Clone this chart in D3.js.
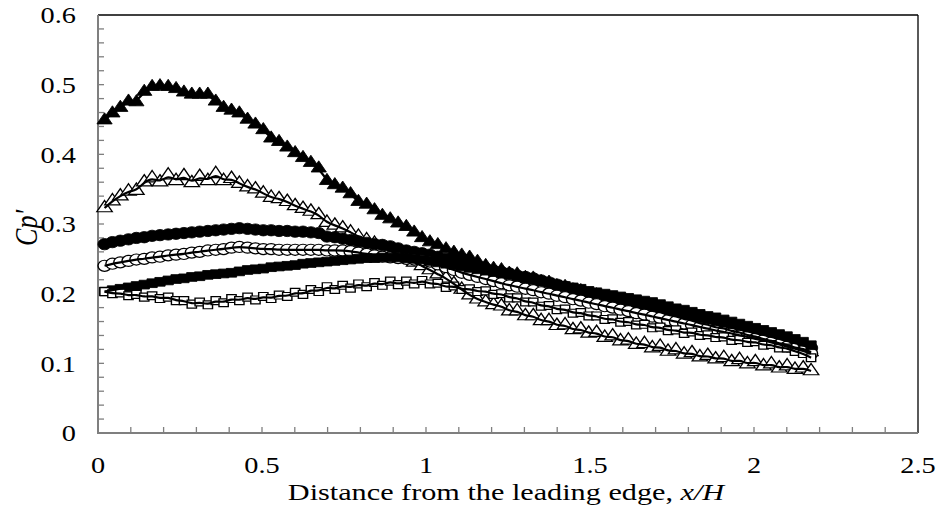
<!DOCTYPE html>
<html lang="en">
<head>
  <meta charset="UTF-8">
  <title>Cp' vs x/H</title>
  <script src="https://d3js.org/d3.v7.min.js"></script>
  <style>
    body { margin: 0; background: #fff; }
    svg text { font-family: "Liberation Serif", "Times New Roman", serif; fill: #000; }
    .axis-domain { stroke: #7f7f7f; stroke-width: 2; fill: none; }
    .tick-mark { stroke: #7f7f7f; stroke-width: 1.3; }
    .frame { stroke: #000; stroke-width: 1.3; }
    .fit { fill: none; stroke: #000; stroke-width: 2.2; }
  </style>
</head>
<body>
  <svg id="chart" width="942" height="517"></svg>
  <script>
    // ---- data ----
    const xOverH = [0.020,0.044,0.068,0.093,0.117,0.141,0.165,0.189,0.214,0.238,
      0.262,0.286,0.310,0.335,0.359,0.383,0.407,0.431,0.456,0.480,
      0.504,0.528,0.552,0.577,0.601,0.625,0.649,0.673,0.698,0.722,
      0.746,0.770,0.794,0.819,0.843,0.867,0.891,0.915,0.940,0.964,
      0.988,1.012,1.036,1.061,1.085,1.109,1.133,1.157,1.182,1.206,
      1.230,1.254,1.278,1.303,1.327,1.351,1.375,1.399,1.424,1.448,
      1.472,1.496,1.520,1.545,1.569,1.593,1.617,1.641,1.666,1.690,
      1.714,1.738,1.762,1.787,1.811,1.835,1.859,1.883,1.908,1.932,
      1.956,1.980,2.004,2.029,2.053,2.077,2.101,2.125,2.150,2.174];

    const cpFilledTriangle = [0.449,0.459,0.467,0.476,0.475,0.490,0.497,0.498,0.497,0.494,
      0.489,0.486,0.486,0.486,0.476,0.467,0.463,0.459,0.450,0.443,
      0.435,0.423,0.418,0.410,0.402,0.395,0.388,0.380,0.362,0.356,
      0.351,0.343,0.332,0.328,0.320,0.312,0.307,0.301,0.296,0.288,
      0.280,0.274,0.270,0.264,0.259,0.255,0.252,0.246,0.240,0.236,
      0.234,0.229,0.228,0.223,0.222,0.217,0.216,0.211,0.210,0.205,
      0.204,0.199,0.198,0.193,0.192,0.187,0.186,0.181,0.180,0.175,
      0.174,0.169,0.168,0.163,0.162,0.157,0.156,0.151,0.151,0.146,
      0.145,0.140,0.139,0.134,0.133,0.128,0.127,0.122,0.121,0.116];

    const cpOpenTriangle = [0.323,0.333,0.340,0.347,0.348,0.360,0.366,0.360,0.370,0.362,
      0.369,0.359,0.368,0.362,0.372,0.362,0.365,0.358,0.353,0.350,
      0.344,0.338,0.336,0.332,0.326,0.322,0.318,0.313,0.302,0.298,
      0.294,0.288,0.282,0.277,0.272,0.266,0.262,0.256,0.251,0.245,
      0.240,0.234,0.228,0.222,0.214,0.206,0.198,0.192,0.188,0.184,
      0.182,0.175,0.175,0.168,0.168,0.161,0.161,0.154,0.155,0.148,
      0.149,0.143,0.144,0.137,0.139,0.132,0.133,0.127,0.128,0.122,
      0.124,0.117,0.119,0.113,0.115,0.109,0.111,0.106,0.108,0.102,
      0.105,0.099,0.102,0.096,0.099,0.093,0.096,0.091,0.093,0.089];

    const cpFilledCircle = [0.271,0.274,0.276,0.278,0.280,0.281,0.283,0.284,0.285,0.286,
      0.287,0.288,0.289,0.290,0.291,0.292,0.293,0.294,0.293,0.292,
      0.291,0.291,0.290,0.290,0.289,0.289,0.288,0.287,0.282,0.281,
      0.279,0.277,0.275,0.273,0.271,0.270,0.268,0.265,0.262,0.260,
      0.258,0.256,0.253,0.250,0.247,0.244,0.241,0.239,0.236,0.233,
      0.231,0.229,0.226,0.224,0.222,0.219,0.216,0.213,0.210,0.207,
      0.204,0.201,0.198,0.196,0.193,0.190,0.187,0.184,0.181,0.178,
      0.175,0.172,0.169,0.166,0.163,0.161,0.158,0.156,0.153,0.151,
      0.148,0.146,0.143,0.141,0.138,0.135,0.132,0.129,0.126,0.122];

    const cpOpenCircle = [0.240,0.243,0.245,0.247,0.249,0.250,0.252,0.253,0.255,0.256,
      0.257,0.259,0.260,0.262,0.263,0.264,0.266,0.267,0.266,0.265,
      0.264,0.264,0.263,0.263,0.263,0.263,0.263,0.263,0.262,0.262,
      0.262,0.261,0.259,0.257,0.255,0.253,0.252,0.251,0.250,0.249,
      0.248,0.246,0.242,0.238,0.234,0.230,0.227,0.224,0.221,0.218,
      0.215,0.212,0.210,0.207,0.205,0.202,0.200,0.197,0.195,0.192,
      0.190,0.187,0.185,0.182,0.180,0.177,0.175,0.172,0.170,0.167,
      0.165,0.162,0.160,0.157,0.155,0.152,0.150,0.147,0.145,0.143,
      0.140,0.138,0.135,0.133,0.130,0.127,0.124,0.121,0.118,0.114];

    const cpFilledSquare = [0.203,0.205,0.207,0.209,0.211,0.213,0.215,0.217,0.219,0.221,
      0.222,0.224,0.225,0.227,0.228,0.229,0.230,0.232,0.234,0.235,
      0.236,0.238,0.239,0.240,0.241,0.243,0.244,0.245,0.246,0.247,
      0.248,0.249,0.250,0.251,0.251,0.252,0.252,0.252,0.251,0.250,
      0.249,0.247,0.245,0.243,0.241,0.239,0.237,0.235,0.233,0.231,
      0.229,0.227,0.225,0.222,0.220,0.218,0.216,0.213,0.211,0.209,
      0.207,0.204,0.202,0.200,0.198,0.196,0.194,0.192,0.190,0.188,
      0.185,0.182,0.179,0.177,0.174,0.171,0.168,0.166,0.163,0.160,
      0.157,0.154,0.151,0.148,0.145,0.142,0.139,0.135,0.131,0.126];

    const cpOpenSquare = [0.203,0.200,0.201,0.197,0.199,0.195,0.197,0.193,0.195,0.190,
      0.190,0.185,0.188,0.184,0.190,0.187,0.193,0.190,0.195,0.191,
      0.196,0.193,0.198,0.196,0.202,0.199,0.206,0.203,0.210,0.206,
      0.212,0.208,0.214,0.210,0.216,0.212,0.218,0.213,0.218,0.214,
      0.219,0.214,0.215,0.209,0.211,0.206,0.207,0.203,0.204,0.199,
      0.200,0.194,0.194,0.188,0.188,0.182,0.183,0.177,0.178,0.172,
      0.173,0.168,0.168,0.163,0.164,0.159,0.160,0.155,0.156,0.151,
      0.152,0.147,0.148,0.143,0.145,0.140,0.141,0.137,0.138,0.133,
      0.134,0.130,0.131,0.126,0.127,0.122,0.122,0.117,0.114,0.108];

    const xTickLabels = ["0", "0.5", "1", "1.5", "2", "2.5"];
    const yTickLabels = ["0", "0.1", "0.2", "0.3", "0.4", "0.5", "0.6"];

    // ---- layout ----
    const plotLeft = 98, plotRight = 918, plotTop = 15, plotBottom = 433;
    const stretch = 1.18; // the picture is widened, type and markers too

    const svg = d3.select("#chart");
    const x = d3.scaleLinear().domain([0, 2.5]).range([plotLeft, plotRight]);
    const y = d3.scaleLinear().domain([0, 0.6]).range([plotBottom, plotTop]);

    const series = [
      { values: cpFilledTriangle, symbol: d3.symbolTriangle, size: 72, filled: true },
      { values: cpOpenTriangle,   symbol: d3.symbolTriangle, size: 74, filled: false },
      { values: cpFilledCircle,   symbol: d3.symbolCircle,   size: 100, filled: true },
      { values: cpOpenCircle,     symbol: d3.symbolCircle,   size: 96, filled: false },
      { values: cpFilledSquare,   symbol: d3.symbolSquare,   size: 76, filled: true },
      { values: cpOpenSquare,     symbol: d3.symbolSquare,   size: 62, filled: false }
    ];

    // frame (top and right)
    svg.append("line").attr("class", "frame")
      .attr("x1", plotLeft).attr("x2", plotRight).attr("y1", plotTop).attr("y2", plotTop);
    svg.append("line").attr("class", "frame")
      .attr("x1", plotRight).attr("x2", plotRight).attr("y1", plotTop).attr("y2", plotBottom);

    // inward ticks
    const yMinor = d3.range(0, 31).map(i => i * 0.02);
    svg.selectAll(".ytick").data(yMinor.slice(1, -1)).enter().append("line")
      .attr("class", "tick-mark")
      .attr("x1", plotLeft).attr("x2", plotLeft + 6)
      .attr("y1", d => y(d)).attr("y2", d => y(d));
    const xMinor = d3.range(1, 25).map(i => i * 0.1);
    svg.selectAll(".xtick").data(xMinor).enter().append("line")
      .attr("class", "tick-mark")
      .attr("x1", d => x(d)).attr("x2", d => x(d))
      .attr("y1", plotBottom).attr("y2", plotBottom - 6);

    // axis lines
    svg.append("path").attr("class", "axis-domain")
      .attr("d", `M${plotLeft},${plotTop}V${plotBottom}H${plotRight}`);

    // tick labels
    svg.selectAll(".ylab").data(yTickLabels).enter().append("text")
      .attr("transform", d => `translate(${plotLeft - 22},${y(+d)}) scale(${stretch},1)`)
      .attr("dy", "0.35em")
      .attr("text-anchor", "end")
      .style("font-size", "24px")
      .text(d => d);
    svg.selectAll(".xlab").data(xTickLabels).enter().append("text")
      .attr("transform", d => `translate(${x(+d)},${plotBottom + 40}) scale(${stretch},1)`)
      .attr("text-anchor", "middle")
      .style("font-size", "24px")
      .text(d => d);

    // axis titles
    const xt = svg.append("text")
      .attr("transform", `translate(${(plotLeft + plotRight) / 2 - 2},${plotBottom + 67}) scale(1.26,1)`)
      .attr("text-anchor", "middle")
      .style("font-size", "24px");
    xt.append("tspan").text("Distance from the leading edge, ");
    xt.append("tspan").style("font-style", "italic").text("x/H");

    svg.append("text")
      .attr("transform", `translate(37,${(plotTop + plotBottom) / 2 + 4}) rotate(-90) scale(1,${stretch})`)
      .attr("text-anchor", "middle")
      .style("font-size", "26px")
      .style("font-style", "italic")
      .text("Cp'");

    // markers
    series.forEach(s => {
      const pts = xOverH.map((xv, i) => [xv, s.values[i]]);
      svg.append("g").selectAll("path").data(pts).enter().append("path")
        .attr("d", d3.symbol().type(s.symbol).size(s.size))
        .attr("transform", d => `translate(${x(d[0])},${y(d[1])}) scale(${stretch},1)`)
        .attr("fill", s.filled ? "#000" : "#fff")
        .attr("stroke", "#000")
        .attr("stroke-width", s.filled ? 0.8 : 1.2);
    });

    // smoothed curves drawn over the markers
    const fit = d3.line()
      .x(d => x(d[0])).y(d => y(d[1]))
      .curve(d3.curveBasis);
    series.forEach(s => {
      const pts = xOverH.map((xv, i) => [xv, s.values[i]]);
      svg.append("path").attr("class", "fit").attr("d", fit(pts));
    });
  </script>
</body>
</html>
